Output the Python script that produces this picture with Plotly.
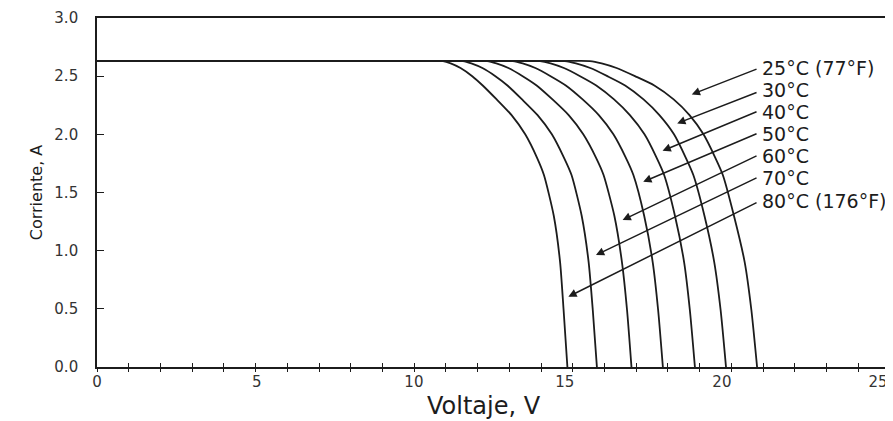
import plotly.graph_objects as go

# Current levels (A) sampled along every curve, from the flat plateau down to 0
current = [2.63, 2.63, 2.63, 2.61, 2.57, 2.50, 2.42, 2.30, 2.165, 2.00, 1.80, 1.65, 1.30, 0.90, 0.49, 0.0]

# Voltage (V) of each curve at those current levels
v_25 = [0, 14.54, 15.54, 15.91, 16.38, 16.96, 17.57, 18.18, 18.68, 19.12, 19.49, 19.73, 20.08, 20.42, 20.63, 20.81]
v_30 = [0, 13.75, 14.75, 15.10, 15.55, 16.09, 16.65, 17.23, 17.73, 18.19, 18.56, 18.80, 19.15, 19.46, 19.66, 19.83]
v_40 = [0, 12.97, 13.97, 14.30, 14.72, 15.23, 15.74, 16.30, 16.80, 17.26, 17.64, 17.88, 18.22, 18.51, 18.69, 18.85]
v_50 = [0, 12.11, 13.11, 13.42, 13.82, 14.30, 14.78, 15.31, 15.82, 16.28, 16.67, 16.91, 17.25, 17.52, 17.69, 17.84]
v_60 = [0, 11.30, 12.30, 12.59, 12.97, 13.42, 13.86, 14.36, 14.87, 15.33, 15.73, 15.97, 16.31, 16.55, 16.71, 16.85]
v_70 = [0, 10.54, 11.54, 11.80, 12.15, 12.56, 12.94, 13.40, 13.89, 14.34, 14.72, 14.96, 15.28, 15.50, 15.63, 15.76]
v_80 = [0, 9.91, 10.91, 11.15, 11.46, 11.83, 12.16, 12.60, 13.07, 13.50, 13.87, 14.09, 14.40, 14.60, 14.71, 14.83]

labels = ["25°C (77°F)", "30°C", "40°C", "50°C", "60°C", "70°C", "80°C (176°F)"]
curves = [v_25, v_30, v_40, v_50, v_60, v_70, v_80]

# Label text positions and arrow heads (data coordinates)
label_x = 20.90
label_y = [2.57, 2.385, 2.195, 2.005, 1.815, 1.627, 1.43]
arrow_tail_x = 20.84
arrow_tail_y = [2.566, 2.365, 2.199, 2.010, 1.821, 1.632, 1.420]
arrow_head_x = [18.75, 18.29, 17.83, 17.22, 16.57, 15.73, 14.86]
arrow_head_y = [2.343, 2.094, 1.858, 1.592, 1.263, 0.962, 0.604]

# x tick labels; in the printed scan they sit slightly left of their tick marks
x_tick_text = ["0", "5", "10", "15", "20", "25"]
x_tick_label_pos = [0.0, 5.04, 9.99, 14.75, 19.70, 24.62]
y_ticks = [0.0, 0.5, 1.0, 1.5, 2.0, 2.5, 3.0]

x_title = "Voltaje, V"
y_title = "Corriente, A"

FONT = "DejaVu Sans"
INK = "#1c1c1c"

fig = go.Figure()
for name, v in zip(labels, curves):
    fig.add_trace(go.Scatter(
        x=v, y=current, mode="lines", name=name,
        line=dict(color=INK, width=1.8, shape="spline", smoothing=0.6),
        showlegend=False, hoverinfo="skip",
    ))

# invisible traces anchoring the tick-mark-only x axes
for ax in ("x2", "x3"):
    fig.add_trace(go.Scatter(x=[0, 25], y=[0, 0], xaxis=ax, mode="lines",
                             line=dict(width=0), showlegend=False, hoverinfo="skip"))

annotations = []
for i, name in enumerate(labels):
    annotations.append(dict(
        x=arrow_head_x[i], y=arrow_head_y[i], xref="x", yref="y",
        ax=arrow_tail_x, ay=arrow_tail_y[i], axref="x", ayref="y",
        text="", showarrow=True, arrowhead=2, arrowsize=1.1, arrowwidth=1.5,
        arrowcolor=INK, standoff=0, startstandoff=0,
    ))
    annotations.append(dict(
        x=label_x, y=label_y[i], xref="x", yref="y", text=name,
        showarrow=False, xanchor="left", yanchor="middle",
        font=dict(family=FONT, size=19, color=INK),
    ))

# x axis title, low near the page edge as in the scan
annotations.append(dict(
    x=0.488, y=-0.113, xref="paper", yref="paper", text=x_title,
    showarrow=False, xanchor="center", yanchor="middle",
    font=dict(family=FONT, size=24, color=INK),
))

tickmarks = dict(range=[0, 25], overlaying="x", anchor="y", side="bottom", automargin=False,
                 dtick=1, tick0=0, ticklen=4, tickwidth=1.3, tickcolor=INK,
                 showticklabels=False, showline=False, showgrid=False, zeroline=False)

# the page body adds an 8 px margin, so the figure is sized to fill the rest
fig.update_layout(
    width=885, height=413,
    margin=dict(l=89, r=3, t=10, b=54, autoexpand=False),
    paper_bgcolor="white", plot_bgcolor="white",
    font=dict(family=FONT, color=INK),
    annotations=annotations,
    xaxis=dict(
        range=[0, 25], tickmode="array", tickvals=x_tick_label_pos, ticktext=x_tick_text,
        ticks="", automargin=False, ticklabeloverflow="allow",
        showline=True, linecolor=INK, linewidth=1.6, mirror=True,
        showgrid=False, zeroline=False,
        tickfont=dict(family=FONT, size=15, color="#333"),
    ),
    xaxis2=dict(tickmarks, ticks="inside"),
    xaxis3=dict(tickmarks, ticks="outside"),
    yaxis=dict(
        range=[0, 3], tickvals=y_ticks, tickformat=".1f", automargin=False,
        ticks="inside", ticklen=7, tickwidth=1.3, tickcolor=INK,
        showline=True, linecolor=INK, linewidth=1.6, mirror=True,
        showgrid=False, zeroline=False, ticklabelstandoff=14,
        tickfont=dict(family=FONT, size=15, color="#333"),
        title=dict(text=y_title, font=dict(family=FONT, size=16, color=INK), standoff=8),
    ),
)

fig.write_html("out.html")
